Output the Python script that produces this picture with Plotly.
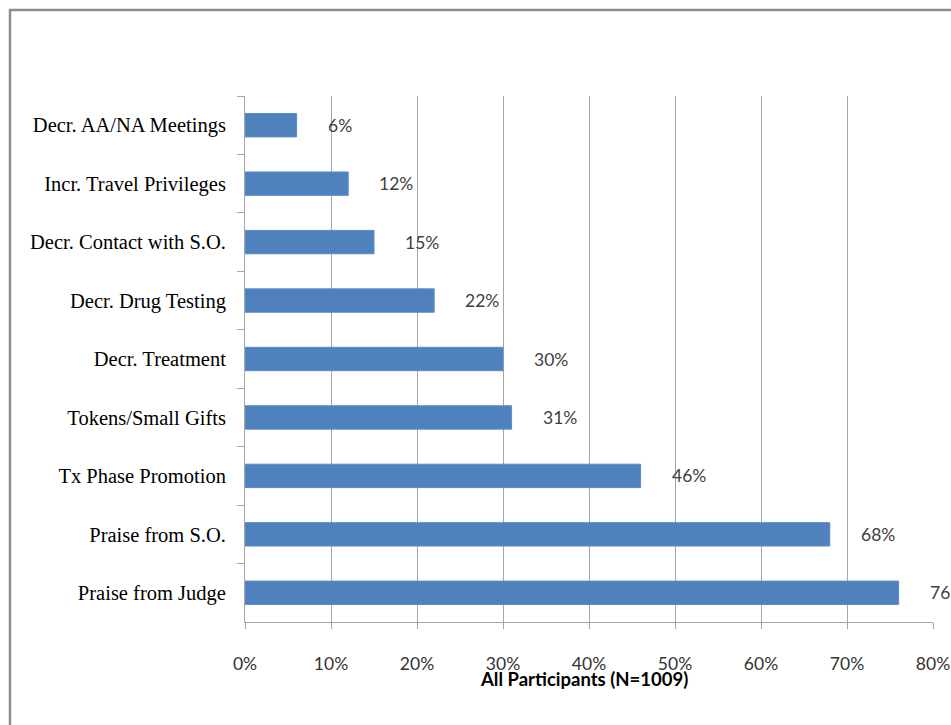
import plotly.graph_objects as go

categories = [
    "Decr. AA/NA Meetings",
    "Incr. Travel Privileges",
    "Decr. Contact with S.O.",
    "Decr. Drug Testing",
    "Decr. Treatment",
    "Tokens/Small Gifts",
    "Tx Phase Promotion",
    "Praise from S.O.",
    "Praise from Judge",
]
values = [6, 12, 15, 22, 30, 31, 46, 68, 76]
x_ticks = [0, 10, 20, 30, 40, 50, 60, 70, 80]
x_tick_labels = [f"{v}%" for v in x_ticks]
x_title = "All Participants (N=1009)"

W, H = 951, 725
L, R, T, B = 245, 18, 96, 103
pw, ph = W - L - R, H - T - B

fig = go.Figure()
fig.add_trace(go.Bar(
    x=values, y=categories, orientation="h",
    marker=dict(color="#4F81BD", line=dict(color="#5B8CC8", width=1)),
    hoverinfo="x+y",
))

for v, c in zip(values, categories):
    fig.add_annotation(x=v, y=c, text=f"{v}%", showarrow=False,
                       xanchor="left", xshift=29, yanchor="middle",
                       font=dict(family="Lato", size=17.5, color="#404040"))

fig.add_annotation(xref="paper", yref="paper",
                   x=(584 - L) / pw, y=(H - B - 679) / ph,
                   text=f"<b>{x_title}</b>", showarrow=False,
                   xanchor="center", yanchor="middle",
                   font=dict(family="Lato", size=18.5, color="#000000"))

# outer frame
fig.add_shape(type="rect", xref="paper", yref="paper",
              x0=(10 - L) / pw, x1=(W + 20 - L) / pw,
              y0=(H - B - (H + 20)) / ph, y1=(H - B - 10) / ph,
              line=dict(color="#8C8C8C", width=2.5), fillcolor="rgba(0,0,0,0)",
              layer="below")

fig.update_layout(
    width=W, height=H,
    margin=dict(l=L, r=R, t=T, b=B, pad=0),
    paper_bgcolor="white", plot_bgcolor="white",
    showlegend=False,
    bargap=0.6,
    xaxis=dict(
        range=[0, 80], tickvals=x_ticks, ticktext=x_tick_labels,
        showgrid=True, gridcolor="#A6A6A6", gridwidth=1,
        showline=True, linecolor="#A6A6A6", linewidth=1,
        ticks="outside", ticklen=6, tickcolor="#A6A6A6",
        ticklabelstandoff=20,
        tickfont=dict(family="Lato", size=17.5, color="#333333"),
        zeroline=False, fixedrange=True, automargin=False,
    ),
    yaxis=dict(
        autorange="reversed",
        showline=True, linecolor="#A6A6A6", linewidth=1,
        ticks="outside", ticklen=7, tickcolor="#A6A6A6",
        tickson="boundaries",
        ticklabelstandoff=14,
        tickfont=dict(family="Liberation Serif", size=20.5, color="#000000"),
        showgrid=False, fixedrange=True, automargin=False,
    ),
)

fig.write_html("out.html", config={"displayModeBar": False})

with open("out.html", "r", encoding="utf-8") as f:
    html = f.read()
html = html.replace("<head>", "<head><style>html,body{margin:0;padding:0;overflow:hidden;}</style>", 1)
with open("out.html", "w", encoding="utf-8") as f:
    f.write(html)
